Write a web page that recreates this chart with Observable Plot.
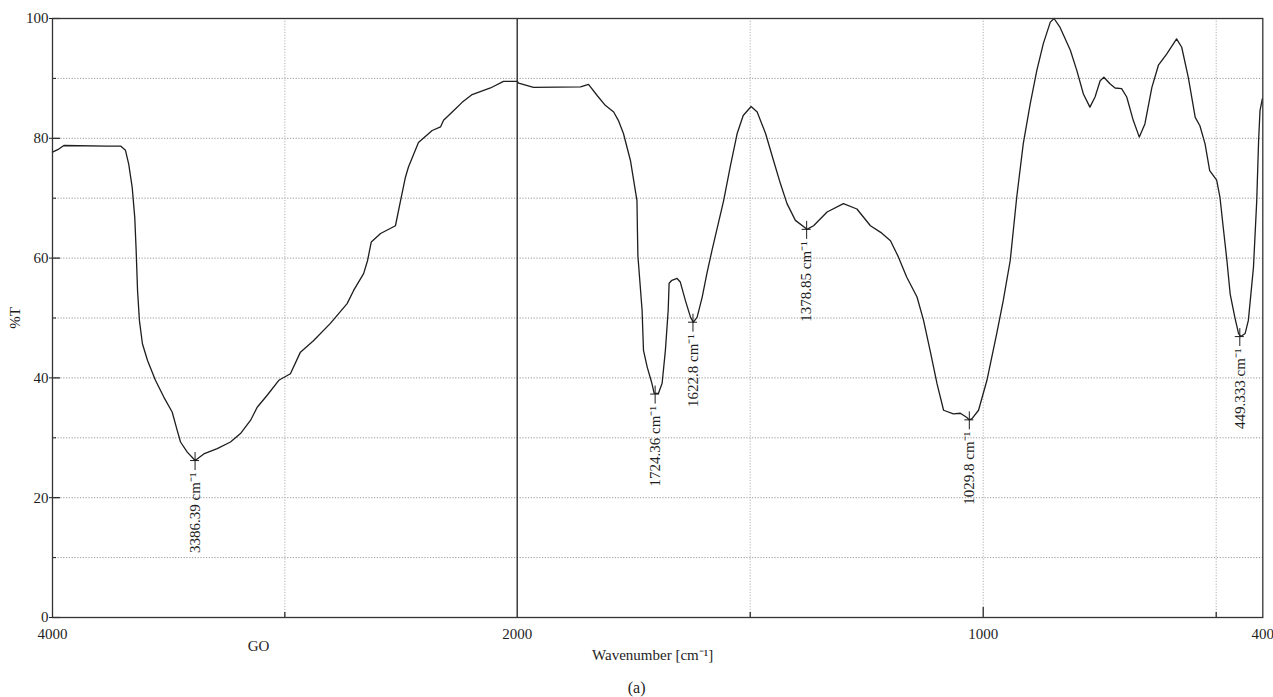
<!DOCTYPE html>
<html><head><meta charset="utf-8">
<script src="https://cdn.jsdelivr.net/npm/d3@7"></script>
<script src="https://cdn.jsdelivr.net/npm/@observablehq/plot@0.6"></script>
<style>body{margin:0;background:#fff}</style>
</head><body><div id="chart"></div>
<script>
// FTIR spectrum of GO
const wavenumber = [4000,3973,3951,3765,3707,3686,3672,3657,3646,3640,3634,3626,3613,3591,3557,3521,3485,3463,3449,3420,3386,3349,3291,3234,3191,3148,3119,3076,3026,2976,2933,2877,2804,2732,2704,2661,2644,2628,2588,2524,2502,2481,2468,2425,2366,2330,2317,2274,2237,2194,2115,2059,2016,2000,1997,1965,1864,1847,1828,1811,1793,1783,1772,1757,1743,1742,1741,1732,1729,1721,1711,1706,1697,1689,1682,1676,1674,1668,1657,1650,1639,1628,1622,1614,1603,1593,1582,1557,1543,1528,1515,1498,1485,1467,1450,1435,1421,1403,1378,1364,1335,1300,1271,1242,1220,1199,1182,1164,1142,1128,1114,1099,1085,1064,1049,1035,1030,1024,1010,992,971,957,942,928,914,899,885,871,856,848,835,813,799,785,771,760,749,741,728,717,703,692,678,665,653,638,624,606,585,574,560,545,535,524,514,499,492,485,477,470,460,452,447,438,431,420,413,409,406,401];
const transmittance = [77.7,78.2,78.8,78.7,78.7,78.0,75.7,71.8,66.8,61.3,54.6,49.6,45.7,42.9,39.6,36.8,34.3,31.2,29.3,27.6,26.2,27.3,28.2,29.3,30.7,32.9,35.1,37.1,39.6,40.7,44.3,46.2,49.1,52.4,54.6,57.4,59.6,62.7,64.1,65.4,69.6,73.5,75.2,79.3,81.3,81.9,83.0,84.6,86.0,87.3,88.4,89.5,89.5,89.5,89.2,88.5,88.6,89.0,87.1,85.5,84.4,83.0,80.8,76.3,69.6,64.6,60.4,51.3,44.6,41.8,39.1,37.4,37.4,39.1,44.6,51.3,55.8,56.3,56.6,56.0,52.9,50.1,49.3,50.1,53.5,57.4,61.3,69.6,75.2,80.8,83.8,85.3,84.4,80.8,76.3,72.4,69.1,66.3,64.8,65.4,67.7,69.1,68.2,65.4,64.3,62.9,60.2,56.8,53.5,49.6,44.6,39.0,34.6,34.0,34.1,33.4,33.0,33.2,34.6,39.6,47.4,52.9,59.6,70.2,79.1,85.8,91.3,95.8,99.4,100,98.5,94.7,91.3,87.4,85.2,86.9,89.6,90.2,89.1,88.4,88.3,86.9,83.0,80.2,82.4,88.5,92.2,94.1,96.6,95.2,90.2,83.5,82.1,79.1,74.6,73.0,70.2,65.2,59.6,54.0,50.1,47.4,46.9,47.4,49.6,58.5,69.6,79.6,84.6,86.6];

const peakWavenumber = [3386.39, 1704, 1622.8, 1378.85, 1029.8, 449.333];
const peakTransmittance = [26.2, 37.3, 49.3, 64.8, 33.0, 46.9];
const peakLabels = ["3386.39 cm⁻¹", "1724.36 cm⁻¹", "1622.8 cm⁻¹", "1378.85 cm⁻¹", "1029.8 cm⁻¹", "449.333 cm⁻¹"];

const xTickValues = [4000, 2000, 1000, 400];
const yTickValues = [0, 20, 40, 60, 80, 100];
const xGridValues = [3000, 1500, 1000, 500];
const yGridValues = [10, 20, 30, 40, 50, 60, 70, 80, 90];
const breakValues = [2000];
const sampleName = "GO";
const xTitle = "Wavenumber [cm⁻¹]";
const yTitle = "%T";
const panelLabel = "(a)";

// layout
const W = 1273, H = 697;
const mL = 52, mR = 10.7, mT = 18, mB = 80;
const xDomain = [4000, 2000, 400];
const xRange = [mL, 516.7, W - mR];
const xs = d3.scaleLinear().domain(xDomain).range(xRange);
const ys = d3.scaleLinear().domain([0, 100]).range([H - mB, mT]);
const xOff = (w, px) => xs.invert(xs(w) + px);       // px to the right
const yUp = (t, px) => ys.invert(ys(t) - px);         // px upward on screen

const spectrum = wavenumber.map((w, i) => ({w, t: transmittance[i]}));
const peaks = peakWavenumber.map((w, i) => ({w, t: peakTransmittance[i], label: peakLabels[i]}));

const ink = "#1e1e1e";
const chart = Plot.plot({
  width: W, height: H,
  marginLeft: mL, marginRight: mR, marginTop: mT, marginBottom: mB,
  style: {fontFamily: "'Liberation Serif', 'Times New Roman', serif", fontSize: "15px", background: "white", color: ink},
  x: {type: "linear", domain: xDomain, range: xRange, ticks: xTickValues, tickSize: 0, tickPadding: 11, tickFormat: d => String(d), label: null},
  y: {domain: [0, 100], ticks: yTickValues, tickSize: 3, tickPadding: 1, label: null},
  marks: [
    Plot.ruleY(yGridValues, {stroke: "#9a9a9a", strokeWidth: 1, strokeDasharray: "1.2,1.6"}),
    Plot.ruleX(xGridValues, {stroke: "#b0b0b0", strokeWidth: 1, strokeDasharray: "1.2,1.6"}),
    // inner ticks on y axis
    Plot.ruleY(yTickValues, {x1: xDomain[0], x2: xOff(xDomain[0], 8), stroke: ink, strokeWidth: 1.2}),
    Plot.ruleY(yGridValues.filter(v => v % 20 !== 0), {x1: xDomain[0], x2: xOff(xDomain[0], 4), stroke: ink, strokeWidth: 1}),
    // inner ticks on x axis
    Plot.ruleX(xGridValues, {y1: 0, y2: d => yUp(0, d === 1000 ? 10 : 5), stroke: ink, strokeWidth: 1.2}),
    Plot.ruleX(breakValues, {stroke: ink, strokeWidth: 1.3}),
    Plot.line(spectrum, {x: "w", y: "t", stroke: ink, strokeWidth: 1.3, curve: "linear"}),
    // peak markers
    Plot.ruleX(peaks, {x: "w", y1: d => yUp(d.t, 8), y2: d => yUp(d.t, -10), stroke: ink, strokeWidth: 1}),
    Plot.ruleY(peaks, {y: "t", x1: d => xOff(d.w, -4.5), x2: d => xOff(d.w, 4.5), stroke: ink, strokeWidth: 1}),
    Plot.text(peaks, {x: "w", y: d => yUp(d.t, -12), text: "label", rotate: -90, textAnchor: "end", lineAnchor: "middle", fontSize: 15, fill: ink}),
    Plot.frame({stroke: "#333", strokeWidth: 1.3}),
    // titles
    Plot.text([yTitle], {frameAnchor: "left", text: d => d, rotate: -90, dx: -37, textAnchor: "middle", lineAnchor: "middle", fontSize: 15, fill: ink}),
    Plot.text([xTitle], {frameAnchor: "bottom", text: d => d, dx: -5, dy: 38, textAnchor: "middle", lineAnchor: "middle", fontSize: 15, fill: ink}),
    Plot.text([sampleName], {frameAnchor: "bottom-left", text: d => d, dx: 206, dy: 29, textAnchor: "middle", lineAnchor: "middle", fontSize: 15, fill: ink}),
    Plot.text([panelLabel], {frameAnchor: "bottom", text: d => d, dx: -21, dy: 70, textAnchor: "middle", lineAnchor: "middle", fontSize: 16, fill: ink})
  ]
});
document.getElementById("chart").appendChild(chart);
</script>
</body></html>
